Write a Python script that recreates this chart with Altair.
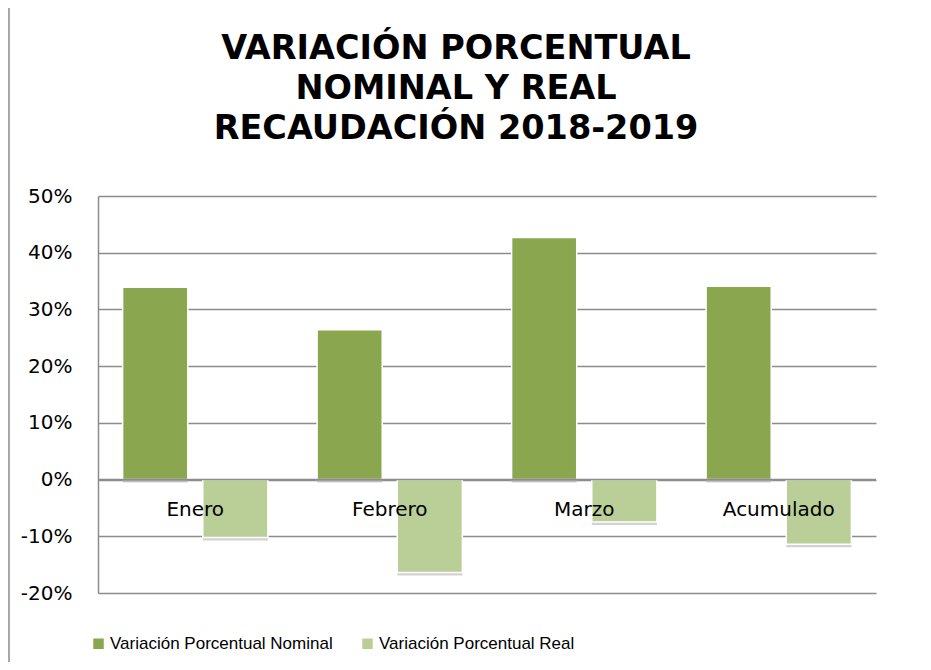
import altair as alt
import pandas as pd

categories = ["Enero", "Febrero", "Marzo", "Acumulado"]
nominal = [0.339, 0.264, 0.427, 0.341]
real = [-0.102, -0.164, -0.075, -0.114]
series = ["Variación Porcentual Nominal", "Variación Porcentual Real"]
colors = ["#8AA64E", "#BACF97"]
y_ticks = [-0.2, -0.1, 0.0, 0.1, 0.2, 0.3, 0.4, 0.5]
title_lines = ["VARIACIÓN PORCENTUAL", "NOMINAL Y REAL", "RECAUDACIÓN 2018-2019"]

rows = []
for c, n, r in zip(categories, nominal, real):
    rows.append({"cat": c, "serie": series[0], "valor": n})
    rows.append({"cat": c, "serie": series[1], "valor": r})
df = pd.DataFrame(rows)
cat_df = pd.DataFrame({"cat": categories})
frame_df = pd.DataFrame({"k": [0]})

xscale = alt.Scale(domain=categories, paddingInner=0.253, paddingOuter=0.1265)
yscale = alt.Scale(domain=[-0.2, 0.5], nice=False)
xoff = alt.XOffset("serie:N", sort=series,
                   scale=alt.Scale(paddingInner=0.1875, paddingOuter=0))

shadow = alt.Chart(df).mark_bar(color="#7F7F7F", opacity=0.35,
                                xOffset=2, yOffset=3).encode(
    x=alt.X("cat:N", scale=xscale, axis=None, sort=categories),
    xOffset=xoff,
    y=alt.Y("valor:Q", scale=yscale),
)

bars = alt.Chart(df).mark_bar(stroke="white", strokeWidth=1.5).encode(
    x=alt.X("cat:N", scale=xscale, axis=None, sort=categories),
    xOffset=xoff,
    y=alt.Y("valor:Q", scale=yscale,
            axis=alt.Axis(values=y_ticks, title=None,
                          labelExpr="round(datum.value*100) + '%'",
                          grid=True, gridColor="#8C8C8C", gridWidth=1.5,
                          domain=True, domainColor="#8C8C8C", domainWidth=1.5,
                          ticks=False, labelPadding=26,
                          labelFont="DejaVu Sans", labelFontSize=20,
                          labelColor="#000000")),
    color=alt.Color("serie:N", sort=series,
                    scale=alt.Scale(domain=series, range=colors),
                    legend=alt.Legend(orient="none", legendX=-8, legendY=439,
                                      direction="horizontal", title=None,
                                      symbolType="square", symbolSize=110,
                                      symbolStrokeWidth=0,
                                      labelFont="Liberation Sans",
                                      labelFontSize=17, labelColor="#000000",
                                      columnPadding=26, labelOffset=3,
                                      labelLimit=400)),
)

zero = alt.Chart(frame_df).mark_rule(color="#8C8C8C", strokeWidth=1.5).encode(
    y=alt.datum(0, scale=yscale)
)

labels = alt.Chart(cat_df).mark_text(
    font="DejaVu Sans", fontSize=20, color="#000000", dy=30, baseline="middle"
).encode(
    x=alt.X("cat:N", scale=xscale, sort=categories),
    y=alt.datum(0),
    text="cat:N",
)

frame = alt.Chart(frame_df).mark_rule(color="#8C8C8C", strokeWidth=1.5).encode(
    x=alt.value(-89), y=alt.value(-200), y2=alt.value(480)
)

title_layers = []
for i, line in enumerate(title_lines):
    title_layers.append(
        alt.Chart(pd.DataFrame({"t": [line]})).mark_text(
            font="DejaVu Sans", fontSize=33.5, fontWeight="bold",
            color="#000000", baseline="middle", align="center"
        ).encode(x=alt.value(358), y=alt.value(-147 + 40 * i), text="t:N")
    )

chart = alt.layer(shadow, bars, zero, labels, frame, *title_layers).properties(
    width=778, height=397,
    padding={"left": 90, "top": 188, "right": 47, "bottom": 69},
    autosize=alt.AutoSizeParams(type="none"),
).configure_view(stroke=None)

chart.save("out.html", embed_options={"renderer": "svg", "actions": False})
